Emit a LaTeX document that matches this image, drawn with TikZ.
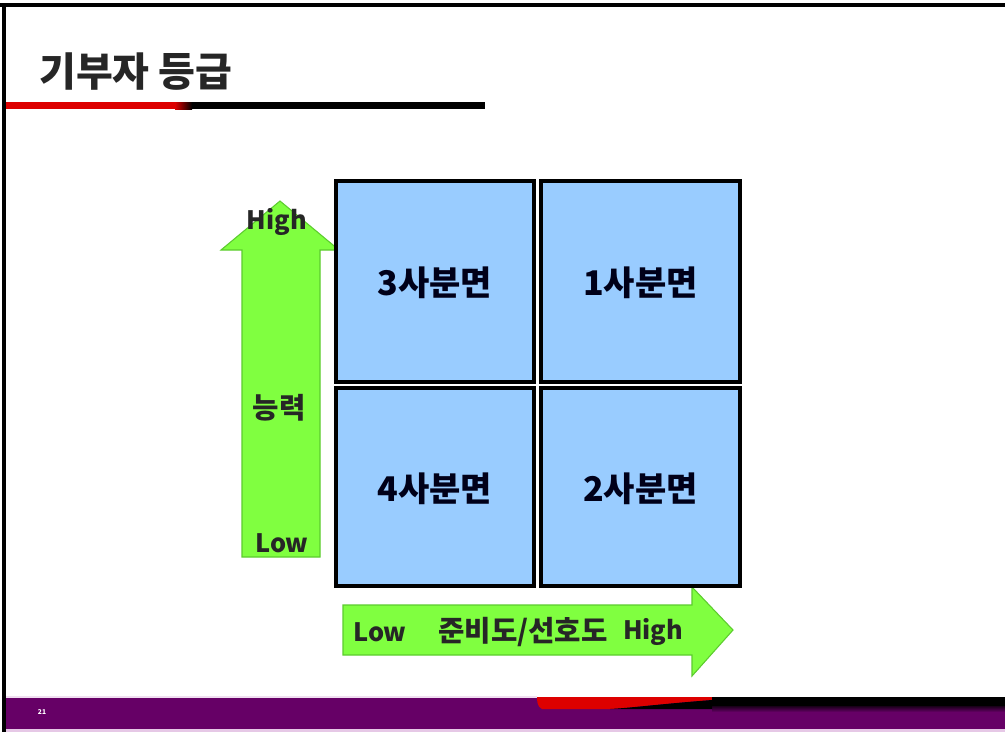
\documentclass[tikz,border=0pt]{standalone}
\usepackage{fontspec}
\setmainfont{Noto Sans CJK KR}
\usetikzlibrary{calc}
\definecolor{quadblue}{HTML}{99CCFF}
\definecolor{arrgreen}{HTML}{80FF40}
\definecolor{arredge}{HTML}{5CCC2E}
\definecolor{barpurple}{HTML}{660066}
\definecolor{barlilac}{HTML}{E6C8E6}
\definecolor{stripered}{HTML}{DD0000}
\tikzset{
  quad/.style={draw=black, fill=quadblue, line width=3pt, anchor=north west, inner sep=0pt},
  quadtext/.style={font=\bfseries\fontsize{25.5}{28}\selectfont, text=black!90!blue},
  greenarrow/.style={draw=arredge, fill=arrgreen, line width=0.8pt, line join=miter},
  arrlabel/.style={font=\bfseries\fontsize{19}{22}\selectfont, text=black!85},
  arrlabelkr/.style={font=\bfseries\fontsize{21.5}{24}\selectfont, text=black!85},
}
\begin{document}
\begin{tikzpicture}[x=0.75pt,y=-0.75pt]
\useasboundingbox (0,0) rectangle (1005,732);
\fill[white] (0,0) rectangle (1005,732);
% slide frame
\fill[black] (0,3) rectangle (1005,7);
\fill[black] (2,3) rectangle (6,732);
% title
\node[anchor=west, inner sep=0pt, font=\bfseries\fontsize{30}{33}\selectfont, text=black!85] (title) at (39,72) {기부자 등급};
% title underline
\fill[stripered] (6,102) rectangle (175,109);
\shade[left color=stripered, right color=black] (175,102) rectangle (192,109);
\fill[black] (192,102) rectangle (485,109);
% bottom bar
\fill[barpurple] (6,697) rectangle (1005,729);
\fill[barlilac] (6,729) rectangle (1005,732);
\fill[barlilac!60] (6,696) rectangle (537,698);
\fill[stripered] (537,697) -- (712,697) -- (712,700) .. controls (660,704) and (630,708) .. (610,709) -- (542,709) .. controls (537,707) and (537,700) .. (537,697) -- cycle;
\shade[top color=black, bottom color=barpurple] (712,704) rectangle (1005,712);
\fill[black] (712,697) rectangle (1005,706);
\path[fill=black] (712,700) .. controls (660,704) and (630,708) .. (610,709) -- (712,709) -- cycle;
\node[font=\bfseries\fontsize{5}{6}\selectfont, text=white] (pnum) at (42,712) {21};
% vertical arrow
\path[greenarrow] (242,557) -- (242,250) -- (221,250) -- (280,201) -- (339,250) -- (320,250) -- (320,557) -- cycle;
% horizontal arrow
\path[greenarrow] (343,605) -- (692,605) -- (692,587) -- (733,630) -- (692,676) -- (692,655) -- (343,655) -- cycle;
% quadrants
\node[quad, minimum width=148.5pt, minimum height=150.75pt] (q3) at (334,179) {};
\node[quad, minimum width=149.25pt, minimum height=150.75pt] (q1) at (539,179) {};
\node[quad, minimum width=148.5pt, minimum height=148.5pt] (q4) at (334,386) {};
\node[quad, minimum width=149.25pt, minimum height=148.5pt] (q2) at (539,386) {};
\node[quadtext] (t3) at ([yshift=-1pt]q3) {3사분면};
\node[quadtext] (t1) at ([yshift=-1pt]q1) {1사분면};
\node[quadtext] (t4) at ([yshift=-1pt]q4) {4사분면};
\node[quadtext] (t2) at ([yshift=-1pt]q2) {2사분면};
% arrow labels
\node[arrlabel] (vhigh) at (277,222) {High};
\node[arrlabelkr] (vmid) at (279,408) {능력};
\node[arrlabel] (vlow) at (282,543) {Low};
\node[arrlabel] (hlow) at (380,632) {Low};
\node[arrlabelkr] (hmid) at (523,632) {준비도/선호도};
\node[arrlabel] (hhigh) at (653,632) {High};
\end{tikzpicture}
\end{document}
